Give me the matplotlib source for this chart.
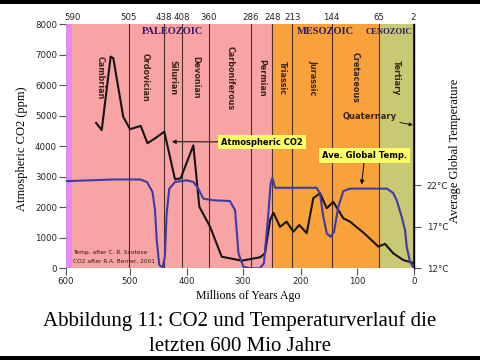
import numpy as np
import matplotlib
matplotlib.use('Agg')
import matplotlib.pyplot as plt
from matplotlib.patches import Rectangle

# CO2 nach Berner 2001 (Mio Jahre vor heute, ppm)
co2_age = [554, 545.5, 532, 528, 513, 499, 480, 468, 454.5, 438, 419.6, 409.7,
           388.5, 377.6, 358, 337.6, 302, 270, 261, 252, 246, 234.5, 223, 211.5,
           202.6, 189.6, 177.6, 165.3, 153, 141.3, 124, 112.6, 95.6, 87.6, 66, 54,
           38.7, 20.3, 3]
co2_ppm = [4770, 4530, 6940, 6890, 4970, 4560, 4670, 4100, 4260, 4480, 2920, 2950,
           4030, 2020, 1360, 380, 250, 360, 490, 1580, 1820, 1360, 1530, 1200,
           1420, 1150, 2300, 2460, 1970, 2180, 1640, 1530, 1260, 1125, 710, 800,
           490, 270, 180]

# Temperatur nach Scotese (Mio Jahre, Grad C)
temp_age = [600, 528, 481, 469, 459, 454.5, 451.5, 447, 441, 437, 434, 429.4,
            419.6, 400.5, 388.5, 379.5, 370.4, 352.4, 323, 314, 308, 299.5, 288,
            270, 263, 255, 251, 248, 243, 234.5, 171.4, 165.3, 159.3, 153, 146,
            140, 132.7, 124, 112.6, 50.8, 39.3, 32.5, 23.3, 17.2, 14.1, 8, 1]
temp_c = [22.5, 22.7, 22.7, 22.4, 21.2, 19.0, 15.4, 12.4, 12.1, 13.4, 18.6, 21.6,
          22.4, 22.6, 22.4, 21.6, 20.4, 20.2, 20.1, 19.0, 13.8, 12.2, 12.0,
          12.0, 12.6, 18.6, 22.2, 22.9, 21.7, 21.7, 21.7, 21.0, 18.2, 16.2, 15.8,
          16.4, 19.4, 21.3, 21.6, 21.6, 21.1, 20.2, 18.2, 16.6, 14.6, 12.8, 12.0]

boundaries = [590, 505, 438, 408, 360, 286, 248, 213, 144, 65, 2]
periods = ['Cambrian', 'Ordovician', 'Silurian', 'Devonian', 'Carboniferous',
           'Permian', 'Triassic', 'Jurassic', 'Cretaceous', 'Tertiary']
co2_ticks = [0, 1000, 2000, 3000, 4000, 5000, 6000, 7000, 8000]
age_ticks = [600, 500, 400, 300, 200, 100, 0]
temp_ticks = [12, 17, 22]

# die Zeitachse im Original ist nicht ganz linear -> stueckweise Skala
scale_age = [-1000, 0, 2, 65, 100, 144, 200, 213, 248, 286, 300, 360, 400, 408,
             438, 500, 505, 590, 600, 2000]
scale_pos = [-580, 0, 1.0, 35.3, 57, 82.6, 113.3, 122, 142, 163.3, 171.3, 205.3,
             227.3, 232.6, 250, 284.8, 285.8, 342, 348.3, 1188]


def fwd(a):
    return np.interp(a, scale_age, scale_pos)


def inv(p):
    return np.interp(p, scale_pos, scale_age)


sans = 'DejaVu Sans'
serif = 'Liberation Serif'

fig = plt.figure(figsize=(4.8, 3.6), dpi=100)
ax = fig.add_axes([66 / 480, 1 - 268.3 / 360, 348.3 / 480, 244 / 360])
ax.set_xscale('function', functions=(fwd, inv))
ax.set_xlim(600, 0)
ax.set_ylim(0, 8000)

# Hintergrund der Erdzeitalter
ax.axvspan(600, 590, color='#e08cf0', lw=0, zorder=0)
ax.axvspan(590, 248, color='#f8a4a4', lw=0, zorder=0)
ax.axvspan(248, 65, color='#f9a23c', lw=0, zorder=0)
ax.axvspan(65, 0, color='#c9c874', lw=0, zorder=0)
for b in boundaries[1:]:
    ax.axvline(b, color='#4a3028', lw=0.8, zorder=1)

for i, name in enumerate(periods):
    mid = (boundaries[i] + boundaries[i + 1]) / 2
    ax.text(mid, 6250, name, rotation=270, ha='center', va='center',
            fontsize=5.8, fontweight='bold', color='#3a2418', family=sans)

ax.text(424, 7750, 'PALEOZOIC', ha='center', va='center', fontsize=7.5,
        fontweight='bold', color='#3a1466', family=serif)
ax.text(156, 7750, 'MESOZOIC', ha='center', va='center', fontsize=7.5,
        fontweight='bold', color='#2a1a5a', family=serif)
ax.text(46, 7750, 'CENOZOIC', ha='center', va='center', fontsize=6.2,
        fontweight='bold', color='#2a1a5a', family=serif)

for b in boundaries:
    ax.text(b, 1.028, str(b), transform=ax.get_xaxis_transform(), ha='center',
            va='center', fontsize=6.2, color='#222222', family=sans)

ax.plot(co2_age, co2_ppm, color='#151515', lw=1.5, zorder=3,
        solid_joinstyle='round')

ax.set_yticks(co2_ticks)
ax.set_xticks(age_ticks)
ax.tick_params(direction='out', length=5, width=0.8, color='#555555',
               labelsize=6.2, labelcolor='#222222', pad=1.5)
for s in ax.spines.values():
    s.set_visible(False)

ax.set_ylabel('Atmospheric CO2 (ppm)', family=serif, fontsize=9)
ax.yaxis.set_label_coords(-0.11, 0.49)
ax.set_xlabel('Millions of Years Ago', family=serif, fontsize=8.5)
ax.xaxis.set_label_coords(0.523, -0.09)

# Temperatur auf zweiter Achse
ax2 = ax.twinx()
ax2.set_ylim(12, 12 + 244 / 8.3)
ax2.plot(temp_age, temp_c, color='#3c3ca6', lw=1.5, zorder=3,
         solid_joinstyle='round')
ax2.set_yticks(temp_ticks, labels=[f'{t}°C' for t in temp_ticks])
ax2.tick_params(direction='out', length=5, width=0.8, color='#555555',
                labelsize=6.2, labelcolor='#222222', pad=4)
for k in ['left', 'top', 'bottom']:
    ax2.spines[k].set_visible(False)
ax2.spines['right'].set_linewidth(1.0)
ax2.set_ylabel('Average Global Temperature', family=serif, fontsize=9)
ax2.yaxis.set_label_coords(1.10, 0.48)

# Beschriftungen mit Pfeilen
ax.annotate('Atmospheric CO2', xy=(425, 4150), xytext=(266, 4140),
            ha='center', va='center', fontsize=6, fontweight='bold', family=sans,
            bbox=dict(boxstyle='square,pad=0.35', fc='#ffff66', ec='none'),
            arrowprops=dict(arrowstyle='-|>', color='black', lw=0.7,
                            mutation_scale=6, shrinkA=0, shrinkB=0), zorder=5)
ax2.annotate('Ave. Global Temp.', xy=(93, 22.1), xytext=(88, 25.6),
             ha='center', va='center', fontsize=6, fontweight='bold', family=sans,
             bbox=dict(boxstyle='square,pad=0.35', fc='#ffff66', ec='none'),
             arrowprops=dict(arrowstyle='-|>', color='black', lw=0.7,
                             mutation_scale=6, shrinkA=0, shrinkB=0), zorder=5)
ax.annotate('Quaternary', xy=(3, 4700), xytext=(79.5, 4970),
            ha='center', va='center', fontsize=6, fontweight='bold', family=sans,
            color='#3a2418',
            arrowprops=dict(arrowstyle='-|>', color='black', lw=0.6,
                            mutation_scale=5, shrinkA=0, shrinkB=0), zorder=5)

ax.text(0.021, 0.066, 'Temp. after C. R. Scotese', transform=ax.transAxes,
        fontsize=4.2, va='center', family=sans, color='#2a1a10')
ax.text(0.021, 0.027, 'CO2 after R.A. Berner, 2001', transform=ax.transAxes,
        fontsize=4.2, va='center', family=sans, color='#2a1a10')

# Bildunterschrift
fig.text(0.5, 1 - 325.7 / 360, 'Abbildung 11: CO2 und Temperaturverlauf die',
         ha='center', va='baseline', fontsize=15, family=serif)
fig.text(0.5, 1 - 350.7 / 360, 'letzten 600 Mio Jahre',
         ha='center', va='baseline', fontsize=15, family=serif)

# schwarze Raender oben und unten
fig.add_artist(Rectangle((0, 1 - 4 / 360), 1, 4 / 360, transform=fig.transFigure,
                         color='black', lw=0))
fig.add_artist(Rectangle((0, 0), 1, 4 / 360, transform=fig.transFigure,
                         color='black', lw=0))

fig.savefig('out.png', dpi=100)
